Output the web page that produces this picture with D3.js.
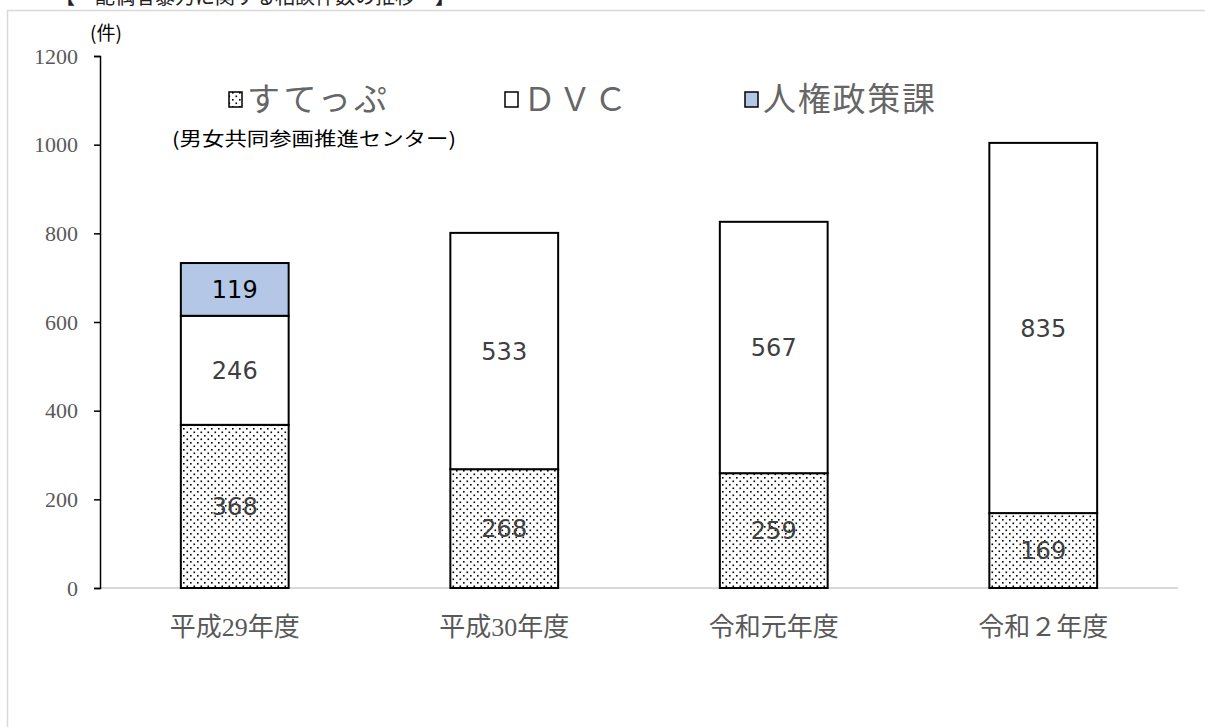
<!DOCTYPE html>
<html>
<head>
<meta charset="utf-8">
<script src="https://cdn.jsdelivr.net/npm/d3@7"></script>
<style>
  body { margin: 0; background: #fff; overflow: hidden; }
  svg { display: block; }
</style>
</head>
<body>
<script>
/* data */
const years = ['平成29年度', '平成30年度', '令和元年度', '令和２年度'];
const seriesNames = ['すてっぷ', 'ＤＶＣ', '人権政策課'];
const suteppu = [368, 268, 259, 169];
const dvc = [246, 533, 567, 835];
const jinken = [119, 0, 0, 0];
const yTicks = [0, 200, 400, 600, 800, 1000, 1200];

const width = 1205, height = 727;
const serif = '"Liberation Serif", "DejaVu Serif", "Noto Sans CJK JP", serif';
const sans = '"Noto Sans CJK JP", sans-serif';
const numFont = '"DejaVu Sans", Verdana, sans-serif';

const svg = d3.select('body').append('svg')
  .attr('width', width)
  .attr('height', height);

// dotted fill like the Excel pattern
const defs = svg.append('defs');
const pat = defs.append('pattern')
  .attr('id', 'dots')
  .attr('patternUnits', 'userSpaceOnUse')
  .attr('width', 7).attr('height', 7);
pat.append('rect').attr('width', 7).attr('height', 7).attr('fill', '#fff');
pat.append('rect').attr('x', 1).attr('y', 1).attr('width', 1.6).attr('height', 1.6).attr('fill', '#000');
pat.append('rect').attr('x', 4.5).attr('y', 4.5).attr('width', 1.6).attr('height', 1.6).attr('fill', '#000');

const fills = ['url(#dots)', '#fff', '#b4c7e7'];

/* title, cut off at the top edge as in the source */
svg.append('text')
  .attr('x', 55).attr('y', 4)
  .attr('font-family', sans)
  .attr('font-size', 20)
  .attr('fill', '#222')
  .text('【　配偶者暴力に関する相談件数の推移　】');

/* frame */
svg.append('rect')
  .attr('x', 7.5).attr('y', 10.5)
  .attr('width', width + 20).attr('height', height + 20)
  .attr('fill', '#fff')
  .attr('stroke', '#d9d9d9')
  .attr('stroke-width', 1.5);

/* scales */
const x = d3.scaleBand()
  .domain(years)
  .range([100, 1178])
  .paddingInner(0.6)
  .paddingOuter(0.3);

const y = d3.scaleLinear()
  .domain([0, 1200])
  .range([588, 56]);

// stacked data
const table = years.map((yr, i) => ({ year: yr, s0: suteppu[i], s1: dvc[i], s2: jinken[i] }));
const stack = d3.stack().keys(['s0', 's1', 's2'])(table);

/* x baseline */
svg.append('line')
  .attr('x1', 100).attr('x2', 1178)
  .attr('y1', y(0)).attr('y2', y(0))
  .attr('stroke', '#d9d9d9')
  .attr('stroke-width', 2);

/* bars */
stack.forEach((layer, k) => {
  const g = svg.append('g').attr('class', 'series-' + k);
  g.selectAll('rect')
    .data(layer.filter(d => d[1] - d[0] > 0))
    .enter().append('rect')
    .attr('x', d => x(d.data.year))
    .attr('y', d => y(d[1]))
    .attr('width', x.bandwidth())
    .attr('height', d => y(d[0]) - y(d[1]))
    .attr('fill', fills[k])
    .attr('stroke', '#000')
    .attr('stroke-width', 2);
});

/* value labels */
stack.forEach((layer, k) => {
  svg.append('g').selectAll('text')
    .data(layer.filter(d => d[1] - d[0] > 0))
    .enter().append('text')
    .attr('x', d => x(d.data.year) + x.bandwidth() / 2)
    .attr('y', d => y((d[0] + d[1]) / 2))
    .attr('dy', '0.36em')
    .attr('text-anchor', 'middle')
    .attr('font-family', numFont)
    .attr('font-size', 24)
    .attr('fill', k === 2 ? '#000' : '#404040')
    .text(d => d[1] - d[0]);
});

/* y axis */
const yAxis = d3.axisLeft(y)
  .tickValues(yTicks)
  .tickFormat(d3.format('d'))
  .tickSize(6)
  .tickSizeOuter(6);

const gy = svg.append('g')
  .attr('transform', 'translate(100,0)')
  .call(yAxis);
gy.select('.domain').attr('stroke', '#000').attr('stroke-width', 1.5);
gy.selectAll('.tick line').attr('stroke', '#000').attr('stroke-width', 1.5);
gy.selectAll('.tick text')
  .attr('x', -22)
  .attr('font-family', serif)
  .attr('font-size', 22)
  .attr('fill', '#595959');

/* x axis labels */
const xAxis = d3.axisBottom(x).tickSize(0);
const gx = svg.append('g')
  .attr('transform', `translate(0,${y(0)})`)
  .call(xAxis);
gx.select('.domain').remove();
gx.selectAll('.tick text')
  .attr('y', 30)
  .attr('dy', '0.71em')
  .attr('font-family', serif)
  .attr('font-size', 26)
  .attr('fill', '#595959');

/* unit */
svg.append('text')
  .attr('x', 90).attr('y', 40)
  .attr('font-family', sans)
  .attr('font-size', 19)
  .attr('fill', '#000')
  .text('(件)');

/* legend */
const legendX = [229, 505, 745];
const legendTextW = [140, 104, 172];
const legend = svg.append('g').attr('class', 'legend');
seriesNames.forEach((name, k) => {
  legend.append('rect')
    .attr('x', legendX[k]).attr('y', 92)
    .attr('width', 13).attr('height', 15)
    .attr('fill', fills[k])
    .attr('stroke', '#000')
    .attr('stroke-width', 1.5);
  legend.append('text')
    .attr('x', legendX[k] + 18).attr('y', 111)
    .attr('font-family', serif)
    .attr('font-size', 33)
    .attr('fill', '#666')
    .attr('textLength', legendTextW[k])
    .attr('lengthAdjust', 'spacing')
    .text(name);
});

svg.append('text')
  .attr('x', 172).attr('y', 146)
  .attr('font-family', sans)
  .attr('font-size', 19)
  .attr('fill', '#000')
  .attr('textLength', 284)
  .attr('lengthAdjust', 'spacingAndGlyphs')
  .text('(男女共同参画推進センター)');
</script>
</body>
</html>
